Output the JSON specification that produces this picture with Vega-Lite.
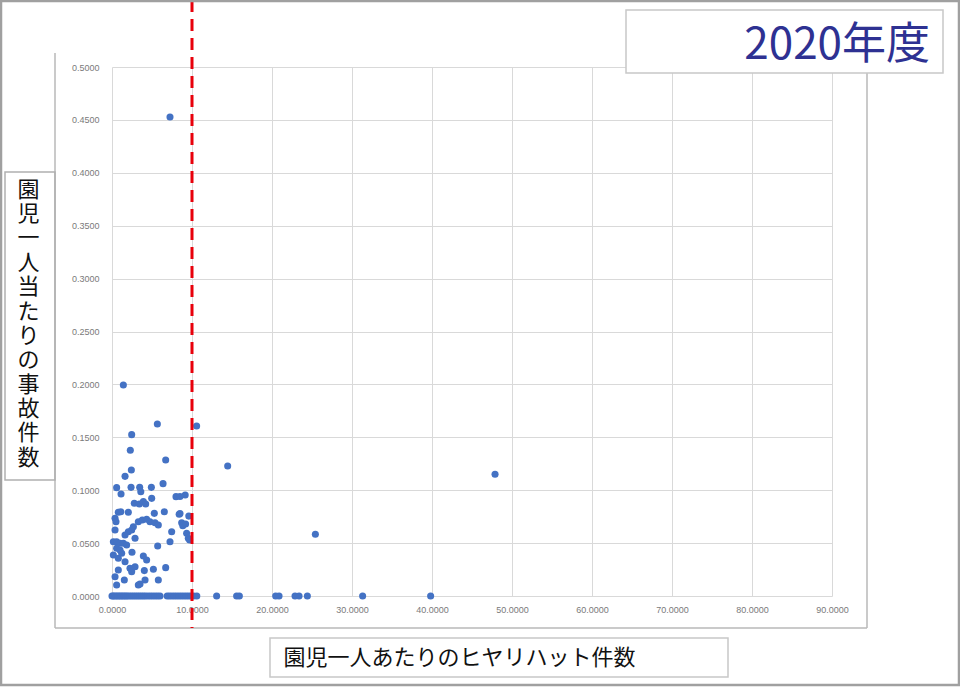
{
  "$schema": "https://vega.github.io/schema/vega-lite/v6.json",
  "width": 720,
  "height": 529,
  "autosize": {"type": "none"},
  "padding": {"left": 112, "top": 67, "right": 128, "bottom": 91},
  "background": "white",
  "title": {
    "text": "2020年度",
    "anchor": "end",
    "frame": "group",
    "font": "Noto Sans CJK JP",
    "fontSize": 44,
    "fontWeight": "normal",
    "color": "#2E3192",
    "dx": 98,
    "dy": 108,
    "offset": 4,
    "baseline": "alphabetic"
  },
  "data": {
    "values": [
      {"hiyari": 7.25, "jiko": 0.4527},
      {"hiyari": 1.42, "jiko": 0.1994},
      {"hiyari": 5.67, "jiko": 0.1626},
      {"hiyari": 10.58, "jiko": 0.1607},
      {"hiyari": 2.46, "jiko": 0.1525},
      {"hiyari": 2.29, "jiko": 0.1377},
      {"hiyari": 6.71, "jiko": 0.1285},
      {"hiyari": 14.46, "jiko": 0.1229},
      {"hiyari": 2.42, "jiko": 0.1191},
      {"hiyari": 1.63, "jiko": 0.1131},
      {"hiyari": 47.88, "jiko": 0.115},
      {"hiyari": 0.58, "jiko": 0.1024},
      {"hiyari": 2.38, "jiko": 0.1027},
      {"hiyari": 3.46, "jiko": 0.1027},
      {"hiyari": 4.92, "jiko": 0.1027},
      {"hiyari": 6.38, "jiko": 0.1062},
      {"hiyari": 1.13, "jiko": 0.0964},
      {"hiyari": 3.6, "jiko": 0.0986},
      {"hiyari": 8.0, "jiko": 0.0939},
      {"hiyari": 9.15, "jiko": 0.0955},
      {"hiyari": 4.96, "jiko": 0.0923},
      {"hiyari": 2.79, "jiko": 0.0876},
      {"hiyari": 3.42, "jiko": 0.087},
      {"hiyari": 3.92, "jiko": 0.0892},
      {"hiyari": 4.21, "jiko": 0.087},
      {"hiyari": 0.79, "jiko": 0.0791},
      {"hiyari": 1.1, "jiko": 0.0797},
      {"hiyari": 2.04, "jiko": 0.0791},
      {"hiyari": 5.29, "jiko": 0.0781},
      {"hiyari": 6.54, "jiko": 0.0797},
      {"hiyari": 8.4, "jiko": 0.0772},
      {"hiyari": 9.6, "jiko": 0.0755},
      {"hiyari": 0.38, "jiko": 0.0734},
      {"hiyari": 0.5, "jiko": 0.0702},
      {"hiyari": 3.29, "jiko": 0.0702},
      {"hiyari": 3.79, "jiko": 0.0718},
      {"hiyari": 4.33, "jiko": 0.0725},
      {"hiyari": 4.75, "jiko": 0.0702},
      {"hiyari": 5.38, "jiko": 0.0693},
      {"hiyari": 2.67, "jiko": 0.0655},
      {"hiyari": 5.79, "jiko": 0.0671},
      {"hiyari": 8.71, "jiko": 0.0693},
      {"hiyari": 8.85, "jiko": 0.0665},
      {"hiyari": 9.2, "jiko": 0.068},
      {"hiyari": 2.04, "jiko": 0.0608},
      {"hiyari": 2.46, "jiko": 0.0624},
      {"hiyari": 0.38, "jiko": 0.0624},
      {"hiyari": 7.46, "jiko": 0.0608},
      {"hiyari": 9.33, "jiko": 0.0592},
      {"hiyari": 9.54, "jiko": 0.0545},
      {"hiyari": 9.7, "jiko": 0.053},
      {"hiyari": 1.63, "jiko": 0.0577},
      {"hiyari": 2.88, "jiko": 0.0545},
      {"hiyari": 0.17, "jiko": 0.0513},
      {"hiyari": 0.58, "jiko": 0.0513},
      {"hiyari": 1.0, "jiko": 0.0498},
      {"hiyari": 1.42, "jiko": 0.0498},
      {"hiyari": 1.83, "jiko": 0.0482},
      {"hiyari": 7.25, "jiko": 0.0513},
      {"hiyari": 5.71, "jiko": 0.0473},
      {"hiyari": 0.58, "jiko": 0.0451},
      {"hiyari": 1.0, "jiko": 0.0435},
      {"hiyari": 1.21, "jiko": 0.0404},
      {"hiyari": 0.17, "jiko": 0.0388},
      {"hiyari": 0.79, "jiko": 0.0356},
      {"hiyari": 2.5, "jiko": 0.0414},
      {"hiyari": 3.92, "jiko": 0.0378},
      {"hiyari": 4.33, "jiko": 0.034},
      {"hiyari": 1.63, "jiko": 0.0324},
      {"hiyari": 0.79, "jiko": 0.0246},
      {"hiyari": 2.25, "jiko": 0.0262},
      {"hiyari": 2.46, "jiko": 0.023},
      {"hiyari": 2.88, "jiko": 0.0277},
      {"hiyari": 4.04, "jiko": 0.024},
      {"hiyari": 5.17, "jiko": 0.0252},
      {"hiyari": 6.71, "jiko": 0.0268},
      {"hiyari": 0.38, "jiko": 0.0182},
      {"hiyari": 1.54, "jiko": 0.0151},
      {"hiyari": 4.13, "jiko": 0.0151},
      {"hiyari": 5.79, "jiko": 0.0151},
      {"hiyari": 0.58, "jiko": 0.0104},
      {"hiyari": 3.29, "jiko": 0.0104},
      {"hiyari": 3.5, "jiko": 0.0113},
      {"hiyari": 25.42, "jiko": 0.0583},
      {"hiyari": 8.5, "jiko": 0.078},
      {"hiyari": 8.5, "jiko": 0.094},
      {"hiyari": 0.0, "jiko": 0},
      {"hiyari": 0.15, "jiko": 0},
      {"hiyari": 0.35, "jiko": 0},
      {"hiyari": 0.55, "jiko": 0},
      {"hiyari": 0.75, "jiko": 0},
      {"hiyari": 0.95, "jiko": 0},
      {"hiyari": 1.15, "jiko": 0},
      {"hiyari": 1.35, "jiko": 0},
      {"hiyari": 1.55, "jiko": 0},
      {"hiyari": 1.75, "jiko": 0},
      {"hiyari": 1.95, "jiko": 0},
      {"hiyari": 2.2, "jiko": 0},
      {"hiyari": 2.45, "jiko": 0},
      {"hiyari": 2.7, "jiko": 0},
      {"hiyari": 2.95, "jiko": 0},
      {"hiyari": 3.2, "jiko": 0},
      {"hiyari": 3.45, "jiko": 0},
      {"hiyari": 3.7, "jiko": 0},
      {"hiyari": 3.95, "jiko": 0},
      {"hiyari": 4.2, "jiko": 0},
      {"hiyari": 4.5, "jiko": 0},
      {"hiyari": 4.8, "jiko": 0},
      {"hiyari": 5.1, "jiko": 0},
      {"hiyari": 5.4, "jiko": 0},
      {"hiyari": 5.7, "jiko": 0},
      {"hiyari": 6.0, "jiko": 0},
      {"hiyari": 6.9, "jiko": 0},
      {"hiyari": 7.2, "jiko": 0},
      {"hiyari": 7.5, "jiko": 0},
      {"hiyari": 7.8, "jiko": 0},
      {"hiyari": 8.1, "jiko": 0},
      {"hiyari": 8.4, "jiko": 0},
      {"hiyari": 8.7, "jiko": 0},
      {"hiyari": 9.0, "jiko": 0},
      {"hiyari": 9.3, "jiko": 0},
      {"hiyari": 9.6, "jiko": 0},
      {"hiyari": 9.9, "jiko": 0},
      {"hiyari": 10.2, "jiko": 0},
      {"hiyari": 10.6, "jiko": 0},
      {"hiyari": 13.08, "jiko": 0},
      {"hiyari": 15.58, "jiko": 0},
      {"hiyari": 15.92, "jiko": 0},
      {"hiyari": 20.46, "jiko": 0},
      {"hiyari": 20.88, "jiko": 0},
      {"hiyari": 22.88, "jiko": 0},
      {"hiyari": 23.38, "jiko": 0},
      {"hiyari": 24.42, "jiko": 0},
      {"hiyari": 31.33, "jiko": 0},
      {"hiyari": 39.83, "jiko": 0}
    ]
  },
  "layer": [
    {
      "data": {"values": [{}]},
      "mark": {"type": "rule", "clip": false, "color": "#b8b8b8", "strokeWidth": 1.5},
      "encoding": {
        "x": {"datum": -7.125, "type": "quantitative"},
        "y": {"datum": 0.5132, "type": "quantitative"},
        "y2": {"datum": -0.0302}
      }
    },
    {
      "data": {"values": [{}]},
      "mark": {"type": "rule", "clip": false, "color": "#b8b8b8", "strokeWidth": 1.5},
      "encoding": {
        "x": {"datum": -7.125, "type": "quantitative"},
        "x2": {"datum": 94.375},
        "y": {"datum": -0.0302, "type": "quantitative"}
      }
    },
    {
      "data": {"values": [{}]},
      "mark": {"type": "rule", "clip": false, "color": "#b8b8b8", "strokeWidth": 1.5},
      "encoding": {
        "x": {"datum": 94.375, "type": "quantitative"},
        "y": {"datum": 0.4943, "type": "quantitative"},
        "y2": {"datum": -0.0302}
      }
    },
    {
      "mark": {"type": "circle", "size": 50, "color": "#4472C4", "opacity": 1},
      "encoding": {
        "x": {
          "field": "hiyari",
          "type": "quantitative",
          "scale": {"domain": [0, 90], "nice": false},
          "axis": {
            "values": [0, 10, 20, 30, 40, 50, 60, 70, 80, 90],
            "format": ".4f",
            "labelFlush": false,
            "title": "園児一人あたりのヒヤリハット件数",
            "titleX": 171,
            "titleY": 61,
            "titleAlign": "left",
            "titleBaseline": "middle",
            "labelPadding": 9
          }
        },
        "y": {
          "field": "jiko",
          "type": "quantitative",
          "scale": {"domain": [0, 0.5], "nice": false},
          "axis": {
            "values": [0, 0.05, 0.1, 0.15, 0.2, 0.25, 0.3, 0.35, 0.4, 0.45, 0.5],
            "format": ".4f",
            "labelFlush": false,
            "title": ["園", "児", "一", "人", "当", "た", "り", "の", "事", "故", "件", "数"],
            "titleAngle": 0,
            "titleX": -84,
            "titleY": 112,
            "titleAlign": "center",
            "titleBaseline": "top",
            "titleLineHeight": 24.4,
            "labelPadding": 13
          }
        }
      }
    },
    {
      "data": {"values": [{}]},
      "mark": {"type": "rule", "clip": false, "color": "#E8000B", "strokeWidth": 3, "strokeDash": [12, 7]},
      "encoding": {
        "x": {"datum": 10, "type": "quantitative"},
        "y": {"datum": 0.5633, "type": "quantitative"},
        "y2": {"datum": -0.0302}
      }
    },
    {
      "data": {"values": [{}]},
      "mark": {"type": "rect", "clip": false, "fill": "white", "stroke": "#c8c8c8", "strokeWidth": 1.5},
      "encoding": {
        "x": {"datum": 64.25, "type": "quantitative"},
        "x2": {"datum": 103.875},
        "y": {"datum": 0.5539, "type": "quantitative"},
        "y2": {"datum": 0.4943}
      }
    },
    {
      "data": {"values": [{}]},
      "mark": {"type": "rect", "clip": false, "fill": null, "fillOpacity": 0, "stroke": "#b0b0b0", "strokeWidth": 1.5},
      "encoding": {
        "x": {"datum": -13.375, "type": "quantitative"},
        "x2": {"datum": -7.125},
        "y": {"datum": 0.4008, "type": "quantitative"},
        "y2": {"datum": 0.1096}
      }
    },
    {
      "data": {"values": [{}]},
      "mark": {"type": "rect", "clip": false, "fill": null, "fillOpacity": 0, "stroke": "#c8c8c8", "strokeWidth": 1.5},
      "encoding": {
        "x": {"datum": 19.75, "type": "quantitative"},
        "x2": {"datum": 77},
        "y": {"datum": -0.0397, "type": "quantitative"},
        "y2": {"datum": -0.0766}
      }
    },
    {
      "data": {"values": [{}]},
      "mark": {"type": "rect", "clip": false, "fill": null, "fillOpacity": 0, "stroke": "#a0a0a0", "strokeWidth": 2.5},
      "encoding": {
        "x": {"datum": -13.875, "type": "quantitative"},
        "x2": {"datum": 105.875},
        "y": {"datum": 0.5624, "type": "quantitative"},
        "y2": {"datum": -0.0841}
      }
    }
  ],
  "config": {
    "view": {"stroke": null},
    "axis": {
      "domain": false,
      "ticks": false,
      "grid": true,
      "gridColor": "#d9d9d9",
      "gridWidth": 1,
      "labelFont": "Liberation Sans",
      "labelFontSize": 9,
      "labelColor": "#7a7a7a",
      "titleFont": "Noto Sans CJK JP",
      "titleFontSize": 22,
      "titleFontWeight": "normal",
      "titleColor": "#111111"
    }
  }
}
